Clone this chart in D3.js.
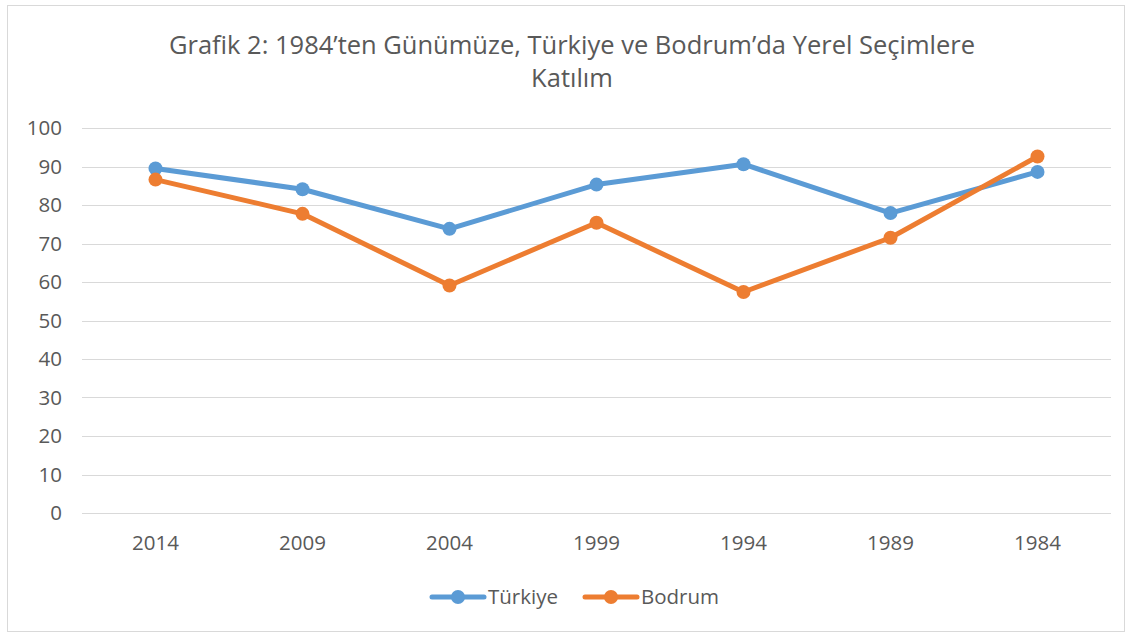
<!DOCTYPE html>
<html>
<head>
<meta charset="utf-8">
<script src="https://cdn.jsdelivr.net/npm/d3@7"></script>
<style>
  body { margin: 0; background: #fff; }
  svg text { font-family: "Open Sans", "Noto Sans", sans-serif; }
</style>
</head>
<body>
<div id="chart"></div>
<script>
var width = 1132;
var height = 637;
var years = ["2014", "2009", "2004", "1999", "1994", "1989", "1984"];
var turkiye = [89.5, 84.1, 73.8, 85.3, 90.6, 77.9, 88.6];
var bodrum = [86.6, 77.7, 59.1, 75.4, 57.4, 71.5, 92.6];
var yTicks = [0, 10, 20, 30, 40, 50, 60, 70, 80, 90, 100];
var titleLines = ["Grafik 2: 1984’ten Günümüze, Türkiye ve Bodrum’da Yerel Seçimlere", "Katılım"];

var blue = "#5B9BD5";
var orange = "#ED7D31";
var grid_color = "#D9D9D9";
var text_color = "#595959";
var fsize = 20.5;

var series = [
    {name: "Türkiye", values: turkiye, color: blue},
    {name: "Bodrum", values: bodrum, color: orange}
];

var svg = d3.select("#chart").append("svg")
    .attr("width", width)
    .attr("height", height);

// outer chart border
svg.append("rect")
    .attr("x", 7.5).attr("y", 5.5)
    .attr("width", 1117).attr("height", 626)
    .attr("fill", "#fff")
    .attr("stroke", grid_color);

// title
svg.selectAll(".title")
    .data(titleLines)
    .enter()
    .append("text")
    .attr("x", 572)
    .attr("y", function(d, i){ return 54 + i * 33; })
    .attr("text-anchor", "middle")
    .attr("font-size", 25.5)
    .attr("fill", text_color)
    .text(function(d){ return d; });

var x = d3.scaleBand().domain(years).range([82, 1111]);
var y = d3.scaleLinear().domain([0, 100]).range([513, 128]);

// gridlines
svg.append("g")
    .selectAll("line")
    .data(yTicks)
    .enter()
    .append("line")
    .attr("x1", 82).attr("x2", 1111)
    .attr("y1", function(d){ return Math.round(y(d)) + 0.5; })
    .attr("y2", function(d){ return Math.round(y(d)) + 0.5; })
    .attr("stroke", grid_color)
    .attr("stroke-width", 1);

// y axis labels
var yAxis = svg.append("g")
    .attr("transform", "translate(62,0)")
    .call(d3.axisLeft(y).tickValues(yTicks).tickSize(0).tickPadding(0));
yAxis.select(".domain").remove();
yAxis.selectAll("text")
    .attr("font-size", fsize)
    .attr("fill", text_color)
    .attr("font-family", "Open Sans, Noto Sans, sans-serif");

// x axis labels
var xAxis = svg.append("g")
    .attr("transform", "translate(0,535)")
    .call(d3.axisBottom(x).tickSize(0).tickPadding(0));
xAxis.select(".domain").remove();
xAxis.selectAll("text")
    .attr("font-size", fsize)
    .attr("fill", text_color)
    .attr("font-family", "Open Sans, Noto Sans, sans-serif");

var line = d3.line()
    .x(function(d, i){ return x(years[i]) + x.bandwidth() / 2; })
    .y(function(d){ return y(d); });

var groups = svg.selectAll(".series")
    .data(series)
    .enter()
    .append("g");

groups.append("path")
    .attr("d", function(s){ return line(s.values); })
    .attr("fill", "none")
    .attr("stroke", function(s){ return s.color; })
    .attr("stroke-width", 5)
    .attr("stroke-linejoin", "round")
    .attr("stroke-linecap", "round");

groups.each(function(s){
    d3.select(this).selectAll("circle")
        .data(s.values)
        .enter()
        .append("circle")
        .attr("cx", function(d, i){ return x(years[i]) + x.bandwidth() / 2; })
        .attr("cy", function(d){ return y(d); })
        .attr("r", 7)
        .attr("fill", s.color);
});

// legend
var legendX = [432, 585];
var legend = svg.selectAll(".legend")
    .data(series)
    .enter()
    .append("g")
    .attr("transform", function(d, i){ return "translate(" + legendX[i] + ",597)"; });

legend.append("line")
    .attr("x1", 0).attr("x2", 52)
    .attr("y1", 0).attr("y2", 0)
    .attr("stroke", function(d){ return d.color; })
    .attr("stroke-width", 5)
    .attr("stroke-linecap", "round");
legend.append("circle")
    .attr("cx", 26).attr("cy", 0).attr("r", 7)
    .attr("fill", function(d){ return d.color; });
legend.append("text")
    .attr("x", 56).attr("y", 0)
    .attr("dy", "0.35em")
    .attr("font-size", fsize)
    .attr("fill", text_color)
    .text(function(d){ return d.name; });
</script>
</body>
</html>
